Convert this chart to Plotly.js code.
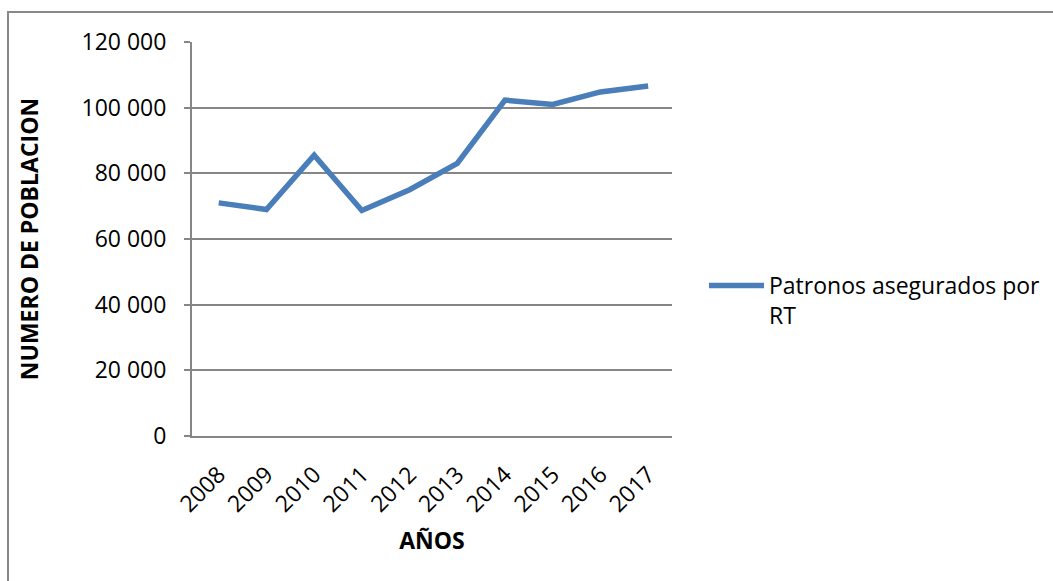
<!DOCTYPE html>
<html>
<head>
<meta charset="utf-8">
<script src="https://cdn.plot.ly/plotly-3.0.1.min.js"></script>
<style>
html,body{margin:0;padding:0;background:#fff;}
#chart{width:1053px;height:581px;}
</style>
</head>
<body>
<div id="chart"></div>
<script>
const years = ["2008","2009","2010","2011","2012","2013","2014","2015","2016","2017"];
const patronos = [71000, 69000, 85500, 68700, 75000, 83000, 102300, 101000, 104800, 106600];
const seriesName = "Patronos asegurados por<br>RT";
const yTickVals = [0, 20000, 40000, 60000, 80000, 100000, 120000];
const yTickText = ["0", "20 000", "40 000", "60 000", "80 000", "100 000", "120 000"];
const xTitle = "AÑOS";
const yTitle = "NUMERO DE POBLACION";

const FONT = "Open Sans, Liberation Sans, sans-serif";
const FS = 23;
const W = 1053, H = 581;
const trace = {
  x: years, y: patronos, type: "scatter", mode: "lines", name: seriesName,
  line: {color: "#4a7ebb", width: 5.5, shape: "linear"}
};
const L = 192, R = W - 672, T = 42, B = H - 436;
const pw = W - L - R, ph = H - T - B;
const layout = {
  width: W, height: H,
  margin: {l: L, r: R, t: T, b: B, pad: 0, autoexpand: false},
  paper_bgcolor: "#fff", plot_bgcolor: "#fff",
  font: {family: FONT, size: FS, color: "#000"},
  showlegend: true,
  legend: {xref: "container", yref: "container", x: 704 / W, y: 1 - 264 / H,
           xanchor: "left", yanchor: "top",
           bgcolor: "rgba(0,0,0,0)", font: {family: FONT, size: FS, color: "#000"},
           itemwidth: 55, valign: "top", tracegroupgap: 0},
  xaxis: {
    type: "category", range: [-0.56, 9.5], tickangle: -45,
    showgrid: false, zeroline: false, showline: true, linecolor: "#868686", linewidth: 2,
    ticks: "", ticklabelstandoff: 14,
    tickfont: {family: FONT, size: FS, color: "#000"},
    title: {text: xTitle, font: {family: FONT, size: FS, color: "#000", weight: "bold"}, standoff: 16}
  },
  yaxis: {
    range: [0, 120000], tickvals: yTickVals, ticktext: yTickText,
    showgrid: true, gridcolor: "#868686", gridwidth: 2, zeroline: false,
    showline: true, linecolor: "#868686", linewidth: 2,
    ticks: "outside", ticklen: 6, tickcolor: "#868686", tickwidth: 2,
    ticklabelstandoff: 13,
    tickfont: {family: FONT, size: FS, color: "#000"},
    title: {text: yTitle, font: {family: FONT, size: FS, color: "#000", weight: "bold"}, standoff: 36}
  },
  shapes: [{
    type: "path", xref: "paper", yref: "paper",
    path: `M ${(8 - L) / pw} ${-(600 - 436) / ph} L ${(8 - L) / pw} ${(436 - 12) / ph} L ${(1060 - L) / pw} ${(436 - 12) / ph}`,
    line: {color: "#888888", width: 2}
  }]
};
Plotly.newPlot("chart", [trace], layout, {displayModeBar: false, staticPlot: true});
</script>
</body>
</html>
